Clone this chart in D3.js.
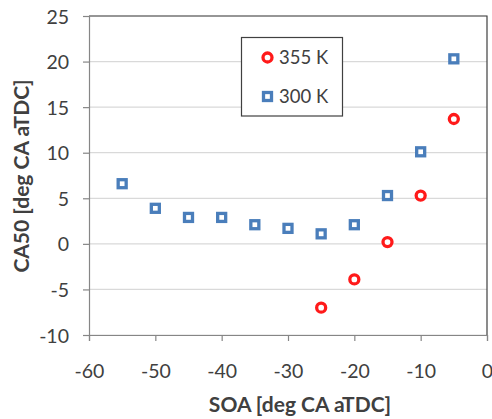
<!DOCTYPE html>
<html>
<head>
<meta charset="utf-8">
<script src="https://cdn.jsdelivr.net/npm/d3@7/dist/d3.min.js"></script>
<style>
  html, body { margin: 0; padding: 0; background: #fff; }
  svg { display: block; font-family: Lato, "Open Sans", sans-serif; }
</style>
</head>
<body>
<svg id="chart" width="492" height="419"></svg>
<script>
// SOA sweep (deg CA aTDC) and resulting CA50 at two intake temperatures
const soa300 = [-55, -50, -45, -40, -35, -30, -25, -20, -15, -10, -5];
const ca50_300 = [6.6, 3.9, 2.9, 2.9, 2.1, 1.7, 1.1, 2.1, 5.3, 10.1, 20.3];
const soa355 = [-25, -20, -15, -10, -5];
const ca50_355 = [-7.0, -3.9, 0.2, 5.3, 13.7];

const xTicks = [-60, -50, -40, -30, -20, -10, 0];
const yTicks = [-10, -5, 0, 5, 10, 15, 20, 25];
const seriesNames = ["355 K", "300 K"];

const svg = d3.select("#chart");
const m = { left: 89, right: 487, top: 16, bottom: 335 };

const x = d3.scaleLinear().domain([-60, 0]).range([m.left, m.right]);
const y = d3.scaleLinear().domain([-10, 25]).range([m.bottom, m.top]);

const textColor = "#404040";

// horizontal gridlines
svg.append("g")
  .selectAll("line")
  .data(yTicks)
  .join("line")
  .attr("x1", m.left).attr("x2", m.right)
  .attr("y1", d => y(d)).attr("y2", d => y(d))
  .attr("stroke", "#d9d9d9").attr("stroke-width", 1.2);

// plot-area frame (top and right)
svg.append("path")
  .attr("d", `M${m.left},${m.top}H${m.right}V${m.bottom}`)
  .attr("fill", "none").attr("stroke", "#404040").attr("stroke-width", 1.2);

// y axis
const yAxis = svg.append("g")
  .attr("transform", `translate(${m.left},0)`)
  .call(d3.axisLeft(y).tickValues(yTicks).tickSize(6).tickPadding(14).tickFormat(d3.format("d")));
// x axis
const xAxis = svg.append("g")
  .attr("transform", `translate(0,${m.bottom})`)
  .call(d3.axisBottom(x).tickValues(xTicks).tickSize(6).tickPadding(23).tickFormat(d3.format("d")));

[yAxis, xAxis].forEach(g => {
  g.select(".domain").attr("stroke", "#868686").attr("stroke-width", 1.2);
  g.selectAll(".tick line").attr("stroke", "#868686").attr("stroke-width", 1.2);
  g.selectAll(".tick text")
    .attr("fill", textColor)
    .style("font-size", "19.5px")
    .style("font-family", "Lato, 'Open Sans', sans-serif");
});
yAxis.selectAll(".tick text").attr("dy", "0.36em");
xAxis.selectAll(".tick text").attr("dy", "0.71em");
// plain hyphen for negative labels
svg.selectAll(".tick text").text(d => String(d));

// axis titles
svg.append("text")
  .attr("x", 300).attr("y", 412)
  .attr("text-anchor", "middle")
  .attr("fill", textColor)
  .style("font-size", "21px").style("font-weight", "bold")
  .text("SOA [deg CA aTDC]");

svg.append("text")
  .attr("transform", "translate(29,176) rotate(-90)")
  .attr("text-anchor", "middle")
  .attr("fill", textColor)
  .style("font-size", "21px").style("font-weight", "bold")
  .text("CA50 [deg CA aTDC]");

const blue = "#4a7ebb";
const red = "#ff1a1a";

// 300 K series: hollow squares
const sq = 8;
svg.append("g")
  .selectAll("rect")
  .data(soa300.map((s, i) => [s, ca50_300[i]]))
  .join("rect")
  .attr("x", d => x(d[0]) - sq / 2)
  .attr("y", d => y(d[1]) - sq / 2)
  .attr("width", sq).attr("height", sq)
  .attr("fill", "#fff").attr("stroke", blue).attr("stroke-width", 3.3);

// 355 K series: hollow circles
svg.append("g")
  .selectAll("circle")
  .data(soa355.map((s, i) => [s, ca50_355[i]]))
  .join("circle")
  .attr("cx", d => x(d[0]))
  .attr("cy", d => y(d[1]))
  .attr("r", 4.5)
  .attr("fill", "#fff").attr("stroke", red).attr("stroke-width", 3.3);

// legend
const lg = svg.append("g");
lg.append("rect")
  .attr("x", 241.5).attr("y", 37.5).attr("width", 101).attr("height", 78.5)
  .attr("fill", "#fff").attr("stroke", "#404040").attr("stroke-width", 1.2);

const legendRows = [
  { name: seriesNames[0], cy: 57.5, shape: "circle" },
  { name: seriesNames[1], cy: 96.5, shape: "square" }
];
legendRows.forEach(r => {
  if (r.shape === "circle") {
    lg.append("circle").attr("cx", 267.5).attr("cy", r.cy).attr("r", 4.5)
      .attr("fill", "#fff").attr("stroke", red).attr("stroke-width", 3.3);
  } else {
    lg.append("rect").attr("x", 267.5 - sq / 2).attr("y", r.cy - sq / 2)
      .attr("width", sq).attr("height", sq)
      .attr("fill", "#fff").attr("stroke", blue).attr("stroke-width", 3.3);
  }
  lg.append("text")
    .attr("x", 279).attr("y", r.cy).attr("dy", "0.36em")
    .attr("fill", textColor)
    .style("font-size", "18.5px")
    .text(r.name);
});
</script>
</body>
</html>
